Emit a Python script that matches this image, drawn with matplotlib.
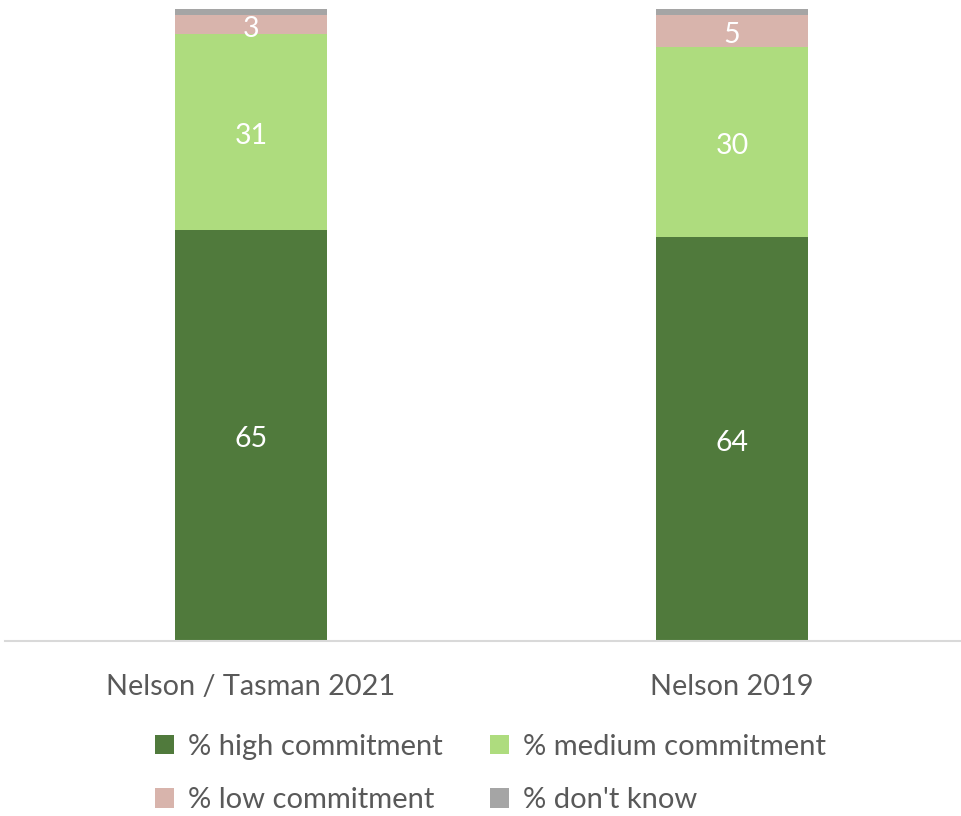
import matplotlib.pyplot as plt
import numpy as np

plt.rcParams['font.family'] = ['Lato', 'DejaVu Sans']

groups = ['Nelson / Tasman 2021', 'Nelson 2019']
series = ['% high commitment', '% medium commitment', '% low commitment', "% don't know"]
high = [65, 64]
medium = [31, 30]
low = [3, 5]
dont_know = [1, 1]
colors = ['#507A3C', '#AEDC7E', '#D8B4AC', '#A5A5A5']
text_gray = '#595959'

values = [high, medium, low, dont_know]

fig = plt.figure(figsize=(9.62, 8.16), dpi=100)
ax = fig.add_axes([5 / 962, 1 - 641 / 816, 957 / 962, 632 / 816])

x = np.arange(len(groups))
bottom = np.zeros(len(groups))
handles = []
for vals, col, name in zip(values, colors, series):
    bars = ax.bar(x, vals, 0.316, bottom=bottom, color=col, label=name, zorder=2)
    handles.append(bars)
    if name != "% don't know":
        for xi, b, v in zip(x, bottom, vals):
            ax.text(xi, b + v / 2 - 0.6, str(v), ha='center', va='center',
                    color='white', fontsize=20.5)
    bottom += np.array(vals)

ax.set_xlim(-0.511, 1.478)
ax.set_ylim(0, 100)
ax.set_xticks(x)
ax.set_xticklabels(groups, fontsize=20.8, color=text_gray)
ax.tick_params(axis='x', length=0, pad=24)
ax.set_yticks([])
for s in ['top', 'left', 'right']:
    ax.spines[s].set_visible(False)
ax.spines['bottom'].set_color('#D9D9D9')
ax.spines['bottom'].set_linewidth(1.5)

# legend: two rows, filled column-wise so reorder handles
order = [0, 2, 1, 3]
leg = fig.legend([handles[i] for i in order], [series[i] for i in order],
                 ncol=2, loc='center', bbox_to_anchor=(0.51, 0.052),
                 frameon=False, fontsize=21, handlelength=0.65, handleheight=0.65,
                 handletextpad=0.5, columnspacing=1.6, labelspacing=0.95)
for t in leg.get_texts():
    t.set_color(text_gray)

fig.savefig('out.png', dpi=100)
